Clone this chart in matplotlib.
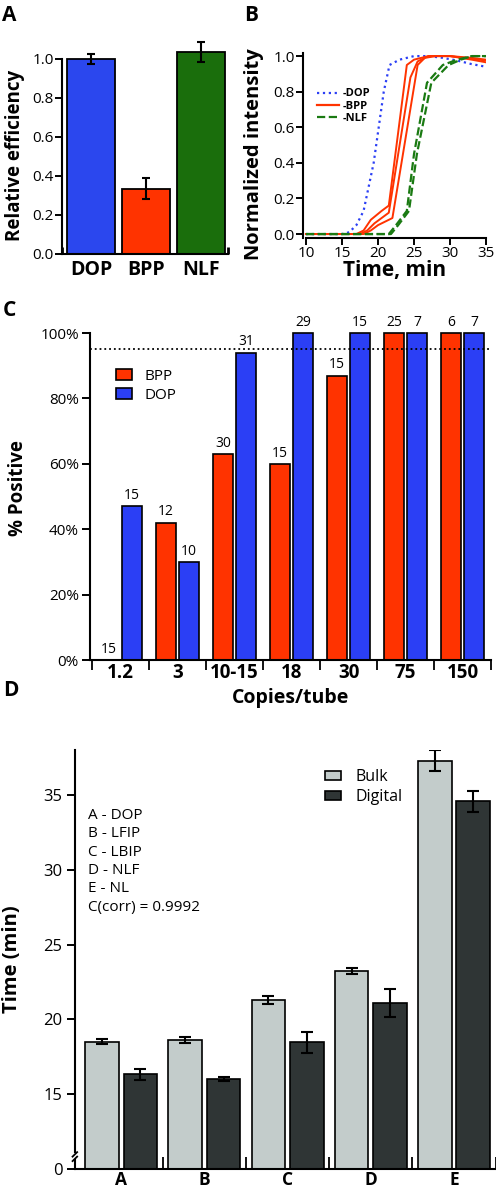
import matplotlib
matplotlib.use("Agg")
import matplotlib.pyplot as plt
from matplotlib.lines import Line2D
import numpy as np

plt.rcParams['font.family'] = ['Open Sans', 'DejaVu Sans']

# ---- data ----
# A: relative efficiency
a_labels = ['DOP', 'BPP', 'NLF']
a_vals = [1.0, 0.335, 1.035]
a_err = [0.025, 0.055, 0.05]
a_colors = ['#2b47ee', '#ff3300', '#1a6e0c']

# B: amplification curves (time, normalized intensity)
dop_t = [10, 15, 16, 17, 18, 19.4, 20.8, 21.6, 23, 25, 27, 29, 31, 33, 35]
dop_y = [0, 0, 0.01, 0.05, 0.13, 0.4, 0.8, 0.95, 0.98, 1.0, 1.0, 0.99, 0.975, 0.955, 0.94]
bpp1_t = [10, 17, 18, 19, 20.5, 21.5, 24, 25, 27, 30, 33, 35]
bpp1_y = [0, 0, 0.02, 0.08, 0.13, 0.16, 0.95, 0.98, 1.0, 1.0, 0.985, 0.975]
bpp2_t = [10, 17.5, 18.5, 19.5, 21.5, 24.5, 25.5, 27, 30, 33, 35]
bpp2_y = [0, 0, 0.02, 0.06, 0.12, 0.88, 0.97, 1.0, 1.0, 0.98, 0.965]
bpp3_t = [10, 18, 19, 20, 22, 25.5, 26.5, 28, 30, 33, 35]
bpp3_y = [0, 0, 0.02, 0.05, 0.09, 0.95, 0.99, 1.0, 1.0, 0.99, 0.98]
nlf1_t = [10, 21.5, 22.5, 24, 25, 26.8, 29, 31, 33, 35]
nlf1_y = [0, 0, 0.05, 0.13, 0.45, 0.85, 0.95, 0.98, 1.0, 1.0]
nlf2_t = [10, 21.8, 22.8, 24.3, 25.4, 27.4, 29.8, 31.5, 33, 35]
nlf2_y = [0, 0, 0.05, 0.13, 0.45, 0.85, 0.95, 0.98, 1.0, 1.0]

# C: % positive
c_groups = ['1.2', '3', '10-15', '18', '30', '75', '150']
c_bpp = [0, 42, 63, 60, 87, 100, 100]
c_dop = [47, 30, 94, 100, 100, 100, 100]
c_bpp_n = [15, 12, 30, 15, 15, 25, 6]
c_dop_n = [15, 10, 31, 29, 15, 7, 7]

# D: time to positive
d_groups = ['A', 'B', 'C', 'D', 'E']
d_bulk = [18.5, 18.6, 21.3, 23.25, 37.3]
d_bulk_err = [0.15, 0.2, 0.25, 0.2, 0.7]
d_dig = [16.3, 16.0, 18.45, 21.1, 34.6]
d_dig_err = [0.35, 0.15, 0.7, 0.95, 0.7]
d_note = ['A - DOP', 'B - LFIP', 'C - LBIP', 'D - NLF', 'E - NL', 'C(corr) = 0.9992']

blue = '#2b3ff5'
red = '#ff3300'
green = '#1a7a12'

fig = plt.figure(figsize=(4.96, 11.94), dpi=100)

def style(ax, lw=1.5):
    for s in ['top', 'right']:
        ax.spines[s].set_visible(False)
    for s in ['left', 'bottom']:
        ax.spines[s].set_linewidth(lw)

# ---- panel A ----
ax = fig.add_axes([0.125, 0.7873, 0.335, 0.1829])
x = np.arange(len(a_vals))
ax.bar(x, a_vals, width=0.87, color=a_colors, edgecolor='black', linewidth=1.3)
ax.errorbar(x, a_vals, yerr=a_err, fmt='none', ecolor='black', elinewidth=1.5, capsize=3, capthick=1.5)
ax.set_xlim(-0.53, 2.5)
ax.set_ylim(0, 1.12)
style(ax)
ax.spines['left'].set_bounds(0, 1.0)
ax.set_yticks([0, 0.2, 0.4, 0.6, 0.8, 1.0])
ax.set_yticklabels(['0.0', '0.2', '0.4', '0.6', '0.8', '1.0'])
ax.set_xticks(x)
ax.set_xticklabels(a_labels, fontweight='bold', fontsize=14)
ax.tick_params(axis='x', length=0, pad=4)
ax.tick_params(axis='y', labelsize=11, width=1.4, length=5, pad=1)
ax.set_xticks([-0.53, 2.5], minor=True)
ax.tick_params(axis='x', which='minor', direction='in', length=5, width=2)
ax.set_ylabel('Relative efficiency', fontweight='bold', fontsize=13.5)
ax.yaxis.set_label_coords(-0.22, 0.45)

# ---- panel B ----
ax = fig.add_axes([0.611, 0.801, 0.369, 0.155])
ax.plot(dop_t, dop_y, ':', color=blue, lw=1.6)
for t, y in [(bpp1_t, bpp1_y), (bpp2_t, bpp2_y), (bpp3_t, bpp3_y)]:
    ax.plot(t, y, '-', color=red, lw=1.4)
for t, y in [(nlf1_t, nlf1_y), (nlf2_t, nlf2_y)]:
    ax.plot(t, y, '--', color=green, lw=1.6)
ax.set_xlim(9.6, 35)
ax.set_ylim(-0.02, 1.02)
style(ax)
ax.spines['bottom'].set_bounds(10, 35)
ax.set_xticks([10, 15, 20, 25, 30, 35])
ax.set_yticks([0, 0.2, 0.4, 0.6, 0.8, 1.0])
ax.set_yticklabels(['0.0', '0.2', '0.4', '0.6', '0.8', '1.0'])
ax.tick_params(labelsize=11, width=1.4, length=5, pad=1)
ax.set_xlabel('Time, min', fontweight='bold', fontsize=15, labelpad=-1)
ax.set_ylabel('Normalized intensity', fontweight='bold', fontsize=14.5)
ax.yaxis.set_label_coords(-0.215, 0.45)
handles = [Line2D([], [], ls=':', color=blue, lw=1.6),
           Line2D([], [], ls='-', color=red, lw=1.6),
           Line2D([], [], ls='--', color=green, lw=1.6)]
ax.legend(handles, ['-DOP', '-BPP', '-NLF'], loc='upper left', bbox_to_anchor=(0.05, 0.83),
          frameon=False, prop={'weight': 'bold', 'size': 8}, handlelength=2.0,
          handletextpad=0.3, labelspacing=0.12, borderaxespad=0)

# ---- panel C ----
ax = fig.add_axes([0.1815, 0.4472, 0.8085, 0.2876])
x = np.arange(len(c_groups))
w = 0.36
ax.bar(x - 0.2, c_bpp, width=w, color=red, edgecolor='black', linewidth=1.2, label='BPP')
ax.bar(x + 0.2, c_dop, width=w, color=blue, edgecolor='black', linewidth=1.2, label='DOP')
for xi, v, n in zip(x - 0.2, c_bpp, c_bpp_n):
    ax.text(xi, v + 1.0, str(n), ha='center', va='bottom', fontsize=10)
for xi, v, n in zip(x + 0.2, c_dop, c_dop_n):
    ax.text(xi, v + 1.0, str(n), ha='center', va='bottom', fontsize=10)
ax.axhline(95, color='black', ls=':', lw=1.3)
ax.set_xlim(-0.535, 6.5)
ax.set_ylim(0, 105)
style(ax)
ax.spines['left'].set_bounds(0, 100)
ax.set_yticks([0, 20, 40, 60, 80, 100])
ax.set_yticklabels(['0%', '20%', '40%', '60%', '80%', '100%'])
ax.set_xticks(x)
ax.set_xticklabels(c_groups, fontweight='bold', fontsize=13.5)
ax.tick_params(axis='x', length=0, pad=2)
ax.set_xticks(np.arange(-0.5, 7, 1.0), minor=True)
ax.tick_params(axis='x', which='minor', direction='out', length=7, width=1.3)
ax.tick_params(axis='y', labelsize=11, width=1.4, length=6, pad=2)
ax.set_xlabel('Copies/tube', fontweight='bold', fontsize=14, labelpad=4)
ax.set_ylabel('% Positive', fontweight='bold', fontsize=13.5)
ax.yaxis.set_label_coords(-0.155, 0.5)
ax.legend(loc='upper left', bbox_to_anchor=(0.05, 0.865), frameon=False, fontsize=11,
          handlelength=1.05, handleheight=0.7, handletextpad=0.8, labelspacing=0.25, borderaxespad=0)

# ---- panel D ----
ax = fig.add_axes([0.151, 0.0213, 0.848, 0.3503])
x = np.arange(len(d_groups))
w = 0.405
ax.bar(x - 0.23, np.array(d_bulk) - 10, bottom=10, width=w, color='#c3cccb', edgecolor='black',
       linewidth=1.2, label='Bulk')
ax.bar(x + 0.23, np.array(d_dig) - 10, bottom=10, width=w, color='#2f3535', edgecolor='black',
       linewidth=1.2, label='Digital')
ax.errorbar(x - 0.23, d_bulk, yerr=d_bulk_err, fmt='none', ecolor='black', elinewidth=1.5,
            capsize=4, capthick=1.5)
ax.errorbar(x + 0.23, d_dig, yerr=d_dig_err, fmt='none', ecolor='black', elinewidth=1.5,
            capsize=4, capthick=1.5)
ax.set_xlim(-0.557, 4.5)
ax.set_ylim(10, 38.0)
style(ax)
ax.spines['left'].set_bounds(11.1, 38.0)
ax.set_yticks([10, 15, 20, 25, 30, 35])
ax.set_yticklabels(['0', '15', '20', '25', '30', '35'])
ax.set_xticks(x)
ax.set_xticklabels(d_groups, fontweight='bold', fontsize=12.5)
ax.tick_params(axis='x', length=0, pad=2)
ax.set_xticks([0.5, 1.5, 2.5, 3.5, 4.5], minor=True)
ax.tick_params(axis='x', which='minor', direction='in', length=9, width=1.3)
ax.tick_params(axis='y', labelsize=12, width=1.4, length=6, pad=3)
ax.set_ylabel('Time (min)', fontweight='bold', fontsize=14.5)
ax.yaxis.set_label_coords(-0.126, 0.5)
# axis break marks
for yb in [10.65, 10.95]:
    ax.plot([-0.585, -0.53], [yb - 0.15, yb + 0.15], color='black', lw=1.3, clip_on=False)
ax.plot([-0.557, -0.557], [10, 10.55], color='black', lw=1.5, clip_on=False)
ax.text(0.032, 0.862, '\n'.join(d_note), transform=ax.transAxes, ha='left', va='top',
        fontsize=11, linespacing=1.3)
ax.legend(loc='upper left', bbox_to_anchor=(0.579, 0.97), frameon=False, fontsize=11.5,
          handlelength=1.0, handleheight=0.56, handletextpad=0.94, labelspacing=0.25, borderaxespad=0)

# panel letters
for lab, (px, py) in zip('ABCD', [(2, 5), (244, 5), (3, 300), (3, 680)]):
    fig.text(px / 496, 1 - py / 1194, lab, fontsize=15, fontweight='bold', ha='left', va='top')

fig.savefig('out.png', dpi=100)
